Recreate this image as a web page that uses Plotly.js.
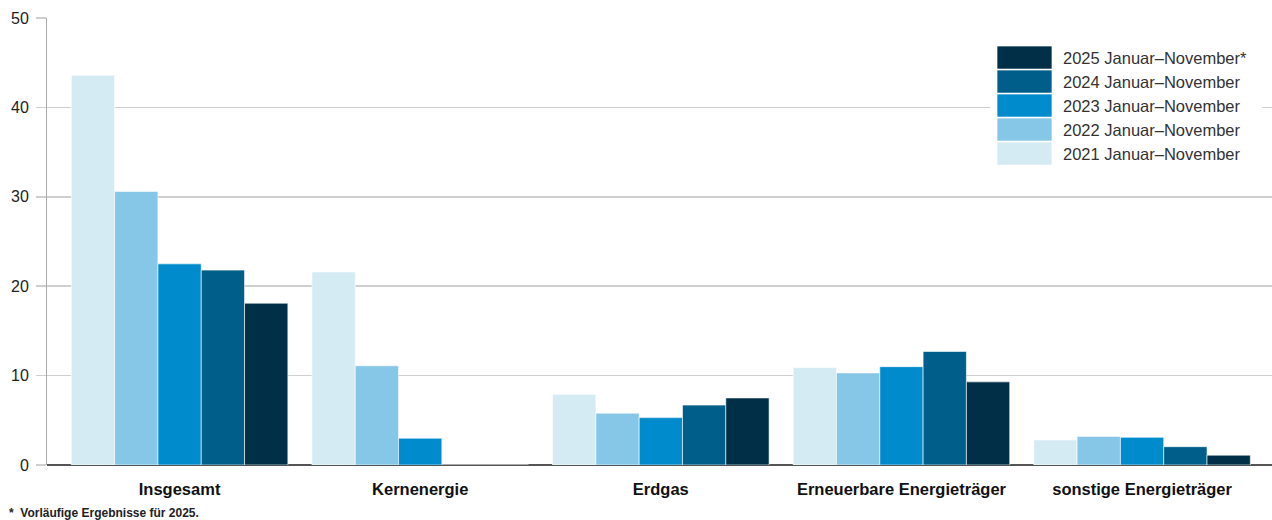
<!DOCTYPE html>
<html>
<head>
<meta charset="utf-8">
<script src="https://cdn.plot.ly/plotly-3.0.1.min.js"></script>
<style>html,body{margin:0;padding:0;background:#fff}#chart{width:1272px;height:520px}</style>
</head>
<body>
<div id="chart"></div>
<script>
var categories = ["Insgesamt", "Kernenergie", "Erdgas", "Erneuerbare Energieträger", "sonstige Energieträger"];
var seriesNames = ["2021 Januar\u2013November", "2022 Januar\u2013November", "2023 Januar\u2013November", "2024 Januar\u2013November", "2025 Januar\u2013November*"];
var v2021 = [43.6, 21.6, 7.9, 10.9, 2.8];
var v2022 = [30.6, 11.1, 5.8, 10.3, 3.2];
var v2023 = [22.5, 3.0, 5.3, 11.0, 3.1];
var v2024 = [21.8, 0, 6.7, 12.7, 2.05];
var v2025 = [18.1, 0, 7.5, 9.3, 1.1];
var yTicks = [0, 10, 20, 30, 40, 50];
var footnote = "*  Vorläufige Ergebnisse für 2025.";

var colors = ["#d5ebf3", "#86c6e6", "#008bcc", "#005f8a", "#002f47"];
var values = [v2021, v2022, v2023, v2024, v2025];
var font = "Liberation Sans, Arial, sans-serif";

var traces = values.map(function (v, i) {
  return {
    type: "bar", x: categories, y: v, name: seriesNames[i],
    marker: {color: colors[i], line: {color: "rgba(255,255,255,0.6)", width: 1}},
    showlegend: false, hoverinfo: "x+y"
  };
});

// custom legend (large swatches), order: newest on top
var shapes = [{type: "rect", xref: "paper", yref: "paper", x0: 0.77, x1: 0.992, y0: 0.66, y1: 0.96,
  fillcolor: "#fff", line: {width: 0}, layer: "above"}];
var annotations = [];
var legX0 = (997 - 47) / 1225, legX1 = (1052 - 47) / 1225;
var rowH = 24 / 447;
var topY = (465 - 46) / 447;
for (var k = 0; k < 5; k++) {
  var idx = 4 - k;
  var yt = topY - k * rowH;
  shapes.push({type: "rect", xref: "paper", yref: "paper", x0: legX0, x1: legX1, y0: yt - rowH + 0.002, y1: yt,
    fillcolor: colors[idx], line: {color: "rgba(255,255,255,0.7)", width: 1}, layer: "above"});
  annotations.push({xref: "paper", yref: "paper", x: (1061 - 47) / 1225, y: yt - rowH / 2, xanchor: "left", yanchor: "middle",
    text: seriesNames[idx], showarrow: false, font: {family: font, size: 16.5, color: "#333"}});
}
annotations.push({xref: "paper", yref: "paper", x: -40 / 1225, y: -48 / 447, xanchor: "left", yanchor: "middle",
  text: footnote, showarrow: false, font: {family: font, size: 12, color: "#222", weight: "bold"}});

var layout = {
  width: 1272, height: 520,
  margin: {l: 47, r: 0, t: 18, b: 55, pad: 0},
  paper_bgcolor: "#fff", plot_bgcolor: "#fff",
  barmode: "group", bargap: 0.1, bargroupgap: 0,
  showlegend: false,
  xaxis: {
    type: "category", range: [-0.551, 4.54], showgrid: false, zeroline: false,
    showline: false, ticks: "", ticklabelstandoff: 12,
    tickfont: {family: font, size: 16.5, color: "#111", weight: "bold"}, fixedrange: true
  },
  yaxis: {
    range: [0, 50], tickvals: yTicks, ticktext: yTicks.map(String),
    showgrid: true, gridcolor: "#cfcfcf", gridwidth: 1.5,
    zeroline: true, zerolinecolor: "#555", zerolinewidth: 2,
    showline: true, linecolor: "#aaa", linewidth: 1,
    ticks: "outside", ticklen: 10, tickcolor: "#cfcfcf", tickwidth: 1.5,
    ticklabelstandoff: 4,
    tickfont: {family: font, size: 16, color: "#222"}, fixedrange: true
  },
  shapes: shapes,
  annotations: annotations
};

Plotly.newPlot("chart", traces, layout, {displayModeBar: false, staticPlot: true});
</script>
</body>
</html>
